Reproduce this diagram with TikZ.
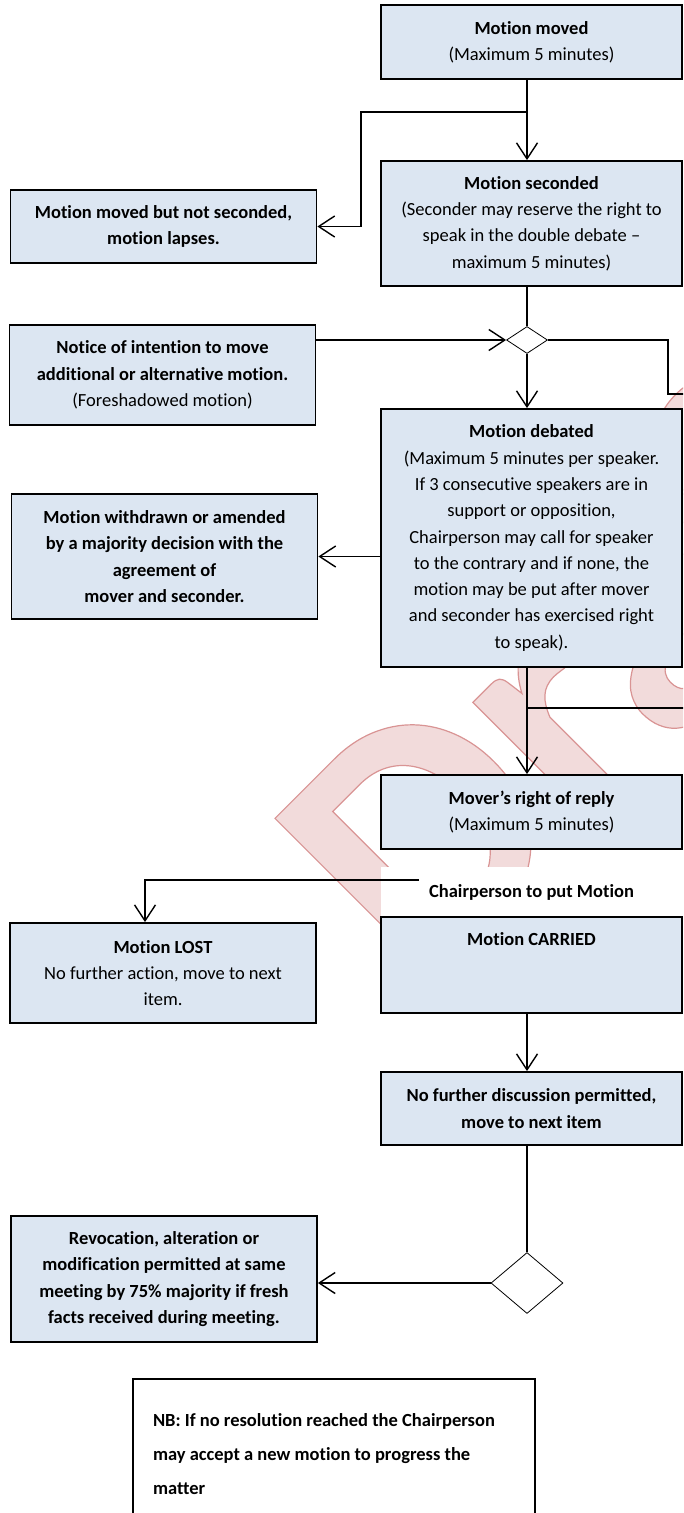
\documentclass[tikz,border=0pt]{standalone}
\usepackage{fontspec}
\setmainfont{Carlito}[Ligatures={TeX,NoCommon}]
\usetikzlibrary{arrows.meta,shapes.geometric,calc}
\definecolor{boxblue}{HTML}{DCE6F2}
\definecolor{wmfill}{HTML}{F2DBDB}
\tikzset{%
  tipV/.tip={Straight Barb[length=16pt,width=21pt]},
}
\newcommand{\boxfont}{\fontsize{18.5}{26.3}\selectfont}
\newcommand{\nbfont}{\fontsize{18.5}{34}\selectfont\bfseries}
% pink letters with a darker rim
\newcommand{\rimtext}[1]{{\color{wmfill}\special{pdf:literal direct 0.85 0.58 0.58 RG 1.2 w 2 Tr}#1\special{pdf:literal direct 0 Tr}}}

\begin{document}
\begin{tikzpicture}[x=1pt,y=-1pt,
  rbox/.style={draw, line width=1.8pt, fill=boxblue, minimum width=301pt, inner sep=0pt, align=center, font=\boxfont},
  lbox/.style={rbox, minimum width=306pt},
  dec/.style={draw, diamond, fill=white, line width=0.8pt, inner sep=0pt},
  link/.style={line width=1.4pt, -tipV},
  wire/.style={line width=1.4pt}]
\clip (0,0) rectangle (683,1513);
% watermark behind everything
\node[rotate=45, anchor=base west, inner sep=0pt, font=\fontsize{354}{354}\selectfont\bfseries] (draft) at (423,995) {\rimtext{Draft}};
%
\node[rbox, minimum height=74pt] (moved) at (531.5,42) {\textbf{Motion moved}\\(Maximum 5 minutes)};
\node[rbox, minimum height=125pt] (seconded) at (531.5,223.5) {\textbf{Motion seconded}\\(Seconder may reserve the right to\\speak in the double debate --\\maximum 5 minutes)};
\node[lbox, minimum height=73pt, font=\boxfont\bfseries] (lapses) at (163.5,226.5) {Motion moved but not seconded,\\motion lapses.};
\node[dec, minimum width=41pt, minimum height=27pt] (d1) at (527,340) {};
\node[lbox, minimum height=100pt] (notice) at (162.5,375) {\textbf{Notice of intention to move}\\\textbf{additional or alternative motion.}\\(Foreshadowed motion)};
\node[rbox, minimum height=258pt] (debated) at (531.5,538) {\textbf{Motion debated}\\(Maximum 5 minutes per speaker.\\If 3 consecutive speakers are in\\support or opposition,\\Chairperson may call for speaker\\to the contrary and if none, the\\motion may be put after mover\\and seconder has exercised right\\to speak).};
\node[lbox, minimum height=125pt, font=\boxfont\bfseries] (withdrawn) at (164.5,556.5) {Motion withdrawn or amended\\by a majority decision with the\\agreement of\\mover and seconder.};
\node[rbox, minimum height=74pt] (reply) at (531.5,812) {\textbf{Mover’s right of reply}\\(Maximum 5 minutes)};
\node[rbox, draw=none, fill=white, minimum height=50pt, font=\boxfont\bfseries] (chair) at (531.5,892) {Chairperson to put Motion};
\node[lbox, minimum height=100pt] (lost) at (163,973) {\textbf{Motion LOST}\\No further action, move to next\\item.};
\node[rbox, minimum height=96pt] (carried) at (531.5,965) {\textbf{Motion CARRIED}\\~\\~};
\node[rbox, minimum height=73pt, font=\boxfont\bfseries] (nofurther) at (531.5,1108.5) {No further discussion permitted,\\move to next item};
\node[dec, minimum width=72pt, minimum height=61pt] (d2) at (527,1283) {};
\node[lbox, minimum height=126pt, font=\boxfont\bfseries] (revoc) at (164,1279) {Revocation, alteration or\\modification permitted at same\\meeting by 75\% majority if fresh\\facts received during meeting.};
\node[draw, line width=1.4pt, minimum width=402pt, minimum height=150pt, text width=362pt, inner xsep=20pt, inner ysep=0pt, align=flush left, font=\nbfont] (nb) at (334,1454) {NB: If no resolution reached the Chairperson\\may accept a new motion to progress the\\matter};
%
% connectors
\coordinate (split1) at (527,112);
\coordinate (bend1) at (361,112);
\coordinate (turnA) at (668,394);
\coordinate (offA) at (690,394);
\coordinate (split2) at (527,708);
\coordinate (offB) at (690,708);
\coordinate (chairL) at (419,880);
\draw[link] (moved.south -| d1) -- (seconded.north -| d1);
\draw[link] (split1) -- (bend1) |- (lapses.east);
\draw[wire] (seconded.south -| d1) -- (d1.north);
\draw[link] (notice.east |- d1.west) -- (d1.west);
\draw[link] (d1.south) -- (debated.north -| d1);
\draw[wire] (d1.east) -| (turnA) -- (offA);
\draw[link] (debated.west |- withdrawn.east) -- (withdrawn.east);
\draw[link] (debated.south -| d1) -- (reply.north -| d1);
\draw[wire] (split2) -- (offB);
\draw[link] (chairL) -| ($(lost.north)+(-18,0)$);
\draw[link] (carried.south -| d1) -- (nofurther.north -| d1);
\draw[wire] (nofurther.south -| d2) -- (d2.north);
\draw[link] (d2.west) -- (revoc.east |- d2.west);
\end{tikzpicture}
\end{document}
